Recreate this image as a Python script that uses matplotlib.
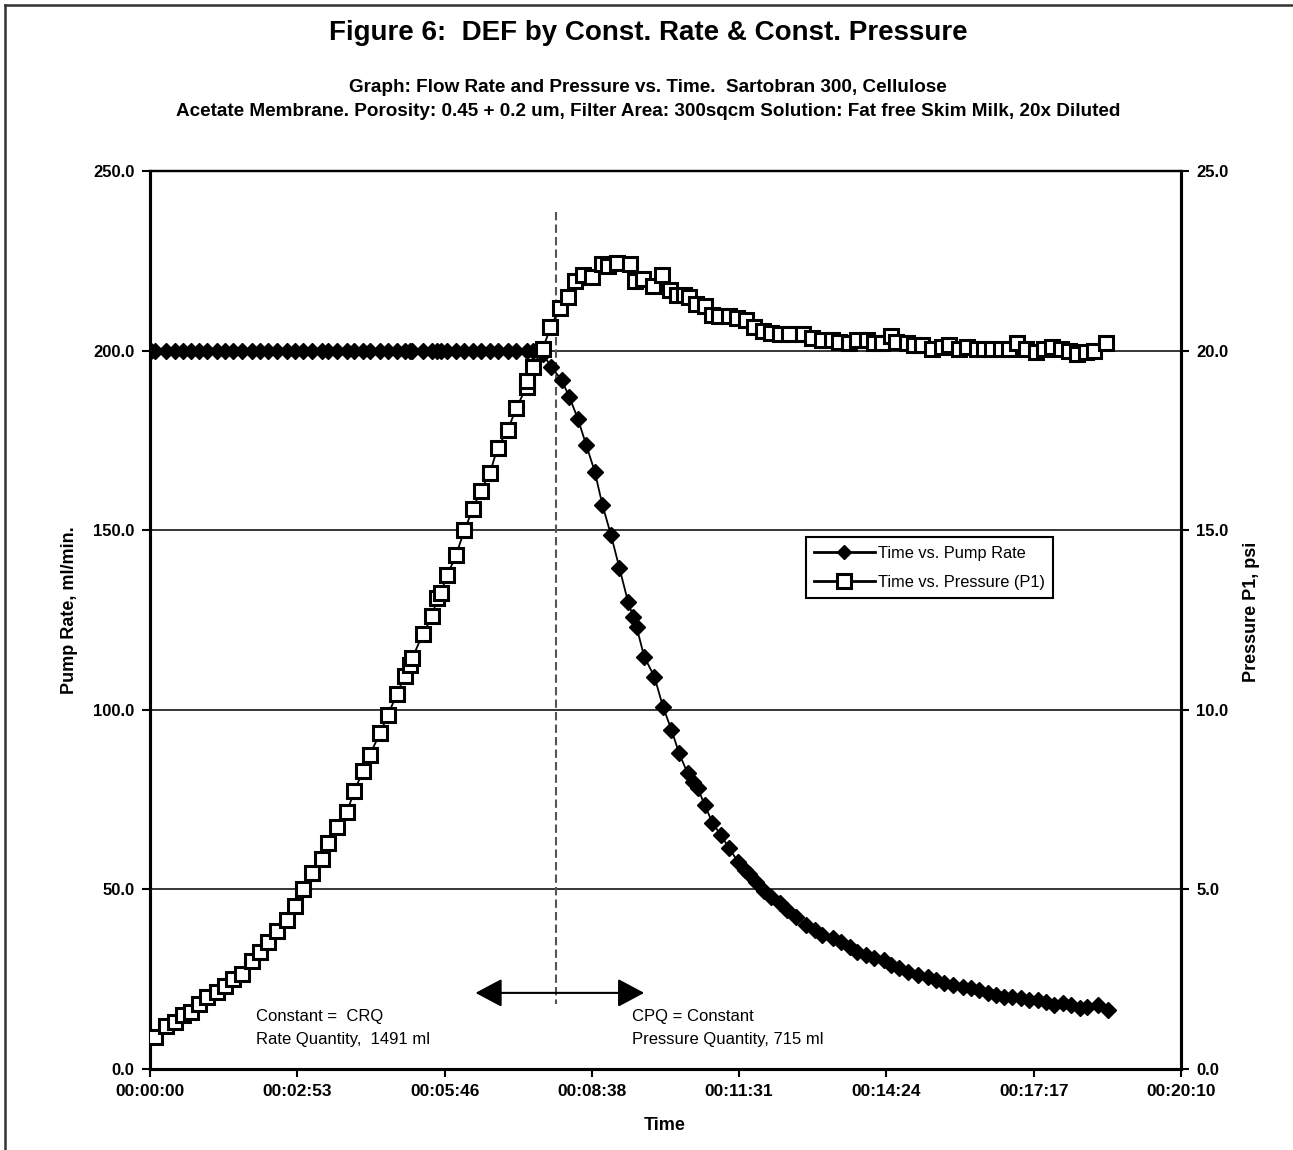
import matplotlib
matplotlib.use("Agg")
import matplotlib.pyplot as plt
from matplotlib.lines import Line2D
import numpy as np

plt.rcParams["font.family"] = ["Liberation Sans", "DejaVu Sans"]

# time in seconds from start of run
pressure_time = [
    6, 19, 29, 39, 48, 57, 67, 79, 88, 97, 108, 120, 129, 138, 149, 161, 170, 179,
    190, 202, 209, 219, 231, 240, 250, 258, 270, 279, 290, 299, 305, 308, 320, 331,
    337, 341, 349, 359, 369, 379, 388, 399, 408, 420, 430, 442, 443, 449, 461,
    470, 481, 491, 499, 508, 519, 530, 537, 548, 563, 569, 578, 590, 601, 610, 618,
    627, 633, 641, 651, 659, 668, 680, 689, 700, 709, 719, 729, 739, 750, 766, 777,
    789, 800, 809, 820, 830, 841, 850, 859, 870, 876, 888, 897, 906, 918, 929, 938,
    950, 959, 970, 979, 988, 999, 1008, 1018, 1028, 1040, 1049, 1059, 1069, 1079,
    1088, 1099, 1108, 1122,
]
pressure_psi = [
    0.9, 1.2, 1.3, 1.5, 1.6, 1.8, 2.0, 2.15, 2.3, 2.5, 2.65, 3.0, 3.25, 3.55, 3.85,
    4.15, 4.55, 5.0, 5.45, 5.85, 6.3, 6.75, 7.15, 7.75, 8.3, 8.75, 9.35, 9.85, 10.45,
    10.95, 11.25, 11.45, 12.1, 12.6, 13.1, 13.25, 13.75, 14.3, 15.0, 15.6, 16.1, 16.6,
    17.3, 17.8, 18.4, 19.0, 19.15, 19.55, 20.05,
    20.65, 21.2, 21.5, 21.95, 22.1, 22.05, 22.4, 22.35, 22.45, 22.4, 21.95, 22.0,
    21.8, 22.1, 21.7, 21.55, 21.55, 21.5, 21.3, 21.25, 21.0, 20.95, 20.95, 20.9,
    20.85, 20.65, 20.55, 20.5, 20.45, 20.45, 20.45, 20.35, 20.3, 20.3, 20.25, 20.2,
    20.3, 20.3, 20.2, 20.2, 20.4, 20.25, 20.2, 20.15, 20.15, 20.05, 20.1, 20.15,
    20.05, 20.1, 20.05, 20.05, 20.05, 20.05, 20.05, 20.2, 20.05, 19.95, 20.05, 20.1,
    20.05, 20.0, 19.9, 19.95, 20.0, 20.2,
]

rate_time = [
    1, 6, 19, 29, 39, 48, 57, 67, 79, 88, 97, 108, 120, 129, 138, 149, 161, 170, 179,
    190, 202, 209, 219, 231, 240, 250, 258, 270, 279, 290, 299, 305, 308, 320, 331,
    337, 341, 349, 359, 369, 379, 388, 399, 408, 420, 430, 442, 449, 461,
    471, 483, 492, 502, 512, 522, 531, 541, 551, 561, 567, 571, 580, 592, 602, 612,
    621, 631, 637, 643, 651, 660, 670, 680, 690, 698, 703, 711, 721, 729, 739, 748,
    758, 770, 780, 789, 801, 811, 821, 830, 840, 850, 862, 870, 879, 889, 901, 913,
    922, 932, 942, 954, 963, 973, 983, 993, 1002, 1012, 1022, 1032, 1042, 1051, 1061,
    1071, 1081, 1091, 1100, 1112, 1124,
]
rate_ml_min = [
    200.0, 200.0, 200.0, 200.0, 200.0, 200.0, 200.0, 200.0, 200.0, 200.0, 200.0,
    200.0, 200.0, 200.0, 200.0, 200.0, 200.0, 200.0, 200.0, 200.0, 200.0, 200.0,
    200.0, 200.0, 200.0, 200.0, 200.0, 200.0, 200.0, 200.0, 200.0, 200.0, 200.0,
    200.0, 200.0, 200.0, 200.0, 200.0, 200.0, 200.0, 200.0, 200.0, 200.0, 200.0,
    200.0, 200.0, 200.0, 200.0, 199.0,
    195.5, 191.8, 187.2, 181.1, 173.7, 166.3, 157.0, 148.7, 139.4, 130.1, 125.9,
    123.1, 114.8, 109.2, 100.9, 94.4, 87.9, 82.3, 80.0, 78.1, 73.5, 68.6, 65.1, 61.4,
    57.7, 55.4, 54.2, 52.1, 49.6, 48.0, 46.1, 44.3, 42.4, 40.1, 38.7, 37.3, 36.4,
    35.4, 34.0, 32.7, 31.7, 30.8, 30.3, 29.0, 28.0, 27.1, 26.2, 25.7, 24.8, 23.9,
    23.4, 22.9, 22.5, 22.0, 21.1, 20.6, 20.1, 20.0, 19.7, 19.2, 19.2, 18.7, 17.8,
    18.3, 17.8, 16.9, 17.4, 17.8, 16.4,
]

time_labels = ["00:00:00", "00:02:53", "00:05:46", "00:08:38",
               "00:11:31", "00:14:24", "00:17:17", "00:20:10"]
t_max = 1210

# switch from constant rate to constant pressure
switch_t = 477

fig = plt.figure(figsize=(12.93, 11.5), dpi=100)
ax = fig.add_axes([0.116, 0.0704, 0.7974, 0.7809])
ax2 = ax.twinx()

ax.plot(rate_time, rate_ml_min, color="black", lw=1.3, marker="D", ms=8,
        mfc="black", mec="black", zorder=3)
ax2.plot(pressure_time, pressure_psi, color="black", lw=1.3, marker="s", ms=9.5,
         mfc="white", mec="black", mew=2.2, zorder=3)

ax.set_xlim(0, t_max)
ax.set_ylim(0, 250)
ax2.set_ylim(0, 25)

ax.set_xticks(np.linspace(0, t_max, len(time_labels)))
ax.set_xticklabels(time_labels)
ax.set_yticks(np.arange(0, 251, 50))
ax.set_yticklabels([f"{v:.1f}" for v in np.arange(0, 251, 50)])
ax2.set_yticks(np.arange(0, 26, 5))
ax2.set_yticklabels([f"{v:.1f}" for v in np.arange(0, 26, 5)])

ax.yaxis.grid(True, color="black", lw=1.1)
ax.set_axisbelow(True)

for a in (ax, ax2):
    a.tick_params(direction="out", length=6, width=1.5, labelsize=12.5, pad=5)
    for lab in a.get_xticklabels() + a.get_yticklabels():
        lab.set_fontweight("bold")
    for side in ("left", "right", "bottom"):
        a.spines[side].set_linewidth(2.2)
    a.spines["top"].set_linewidth(1.6)
ax.tick_params(axis="y", labelsize=12)
ax2.tick_params(axis="y", labelsize=12)

ax.plot([switch_t, switch_t], [238.5, 18], color="#555555", lw=1.5,
        ls=(0, (4, 2)), zorder=2)
ax.annotate("", xy=(382, 21.2), xytext=(580, 21.2),
            arrowprops=dict(arrowstyle="<|-|>,head_length=0.75,head_width=0.4",
                            mutation_scale=22, lw=1.5, color="black",
                            shrinkA=0, shrinkB=0))

ax.text(124, 14.5, "Constant =  CRQ", fontsize=12, va="center")
ax.text(124, 8.1, "Rate Quantity,  1491 ml", fontsize=12, va="center")
ax.text(566, 14.5, "CPQ = Constant", fontsize=12, va="center")
ax.text(566, 8.1, "Pressure Quantity, 715 ml", fontsize=12, va="center")

handles = [
    Line2D([], [], color="black", lw=2, marker="D", ms=7, mfc="black"),
    Line2D([], [], color="black", lw=2, marker="s", ms=10, mfc="white", mew=2.2),
]
leg = ax2.legend(handles, ["Time vs. Pump Rate", "Time vs. Pressure (P1)"],
                 loc="upper left", bbox_to_anchor=(0.636, 0.592),
                 bbox_transform=ax.transAxes, fancybox=False, edgecolor="black",
                 framealpha=1, fontsize=11.8, handlelength=3.7, handletextpad=0.2,
                 borderpad=0.5, labelspacing=0.85, borderaxespad=0)
leg.get_frame().set_linewidth(1.5)

W, H = 1293, 1150
fig.text(648 / W, 1 - 33 / H, "Figure 6:  DEF by Const. Rate & Const. Pressure",
         ha="center", va="center", fontsize=20, fontweight="bold")
fig.text(648 / W, 1 - 88 / H, "Graph: Flow Rate and Pressure vs. Time.  Sartobran 300, Cellulose",
         ha="center", va="center", fontsize=13.6, fontweight="bold")
fig.text(648 / W, 1 - 112 / H,
         "Acetate Membrane. Porosity: 0.45 + 0.2 um, Filter Area: 300sqcm Solution: Fat free Skim Milk, 20x Diluted",
         ha="center", va="center", fontsize=13.6, fontweight="bold")
fig.text(70 / W, 1 - 610 / H, "Pump Rate, ml/min.", rotation=90, ha="center",
         va="center", fontsize=13, fontweight="bold")
fig.text(1252 / W, 1 - 612 / H, "Pressure P1, psi", rotation=90, ha="center",
         va="center", fontsize=13, fontweight="bold")
fig.text(665 / W, 1 - 1125 / H, "Time", ha="center", va="center",
         fontsize=13, fontweight="bold")

# outer chart-area border (top and left edges visible)
fig.add_artist(Line2D([5 / W, 1], [1 - 5 / H, 1 - 5 / H], transform=fig.transFigure,
                      color="#333333", lw=1.8))
fig.add_artist(Line2D([5 / W, 5 / W], [0, 1 - 5 / H], transform=fig.transFigure,
                      color="#333333", lw=1.8))

fig.savefig("out.png", dpi=100)
